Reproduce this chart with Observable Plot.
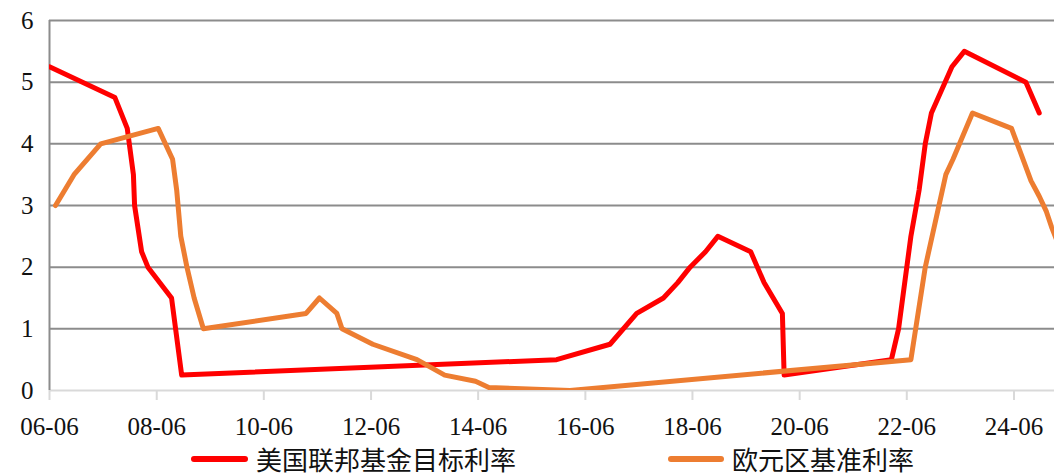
<!DOCTYPE html>
<html>
<head>
<meta charset="utf-8">
<script src="https://cdn.jsdelivr.net/npm/d3@7"></script>
<script src="https://cdn.jsdelivr.net/npm/@observablehq/plot@0.6"></script>
<style>
  html, body { margin: 0; padding: 0; background: #fff; }
  #chart { width: 1054px; height: 476px; overflow: hidden; position: relative; }
  #chart svg { display: block; }
  .legend { position: relative; height: 30px; font-family: "Noto Sans CJK SC", sans-serif; font-size: 26px; line-height: 30px; color: #111; }
  .legend .item { position: absolute; top: 0; height: 30px; display: flex; align-items: center; }
  .legend .swatch { height: 6px; border-radius: 3px; margin-right: 8px; }
</style>
</head>
<body>
<div id="chart"></div>
<script>
// US federal funds target rate (%), at the dates it changed
const fedDates = ["2006-06-29","2007-09-18","2007-12-11","2008-01-22","2008-01-30","2008-03-18","2008-04-30","2008-10-08","2008-12-16","2015-12-16","2016-12-14","2017-06-14","2017-12-13","2018-03-21","2018-06-13","2018-09-26","2018-12-19","2019-07-31","2019-10-30","2020-03-03","2020-03-15","2022-03-16","2022-05-04","2022-07-27","2022-09-21","2022-11-02","2022-12-14","2023-05-03","2023-07-26","2024-09-18","2024-12-18"];
const fedRates = [5.25,4.75,4.25,3.5,3.0,2.25,2.0,1.5,0.25,0.5,0.75,1.25,1.5,1.75,2.0,2.25,2.5,2.25,1.75,1.25,0.25,0.5,1.0,2.5,3.25,4.0,4.5,5.25,5.5,5.0,4.5];

// Euro area main refinancing rate (%)
const ecbDates = ["2006-08-09","2006-12-13","2007-06-13","2008-07-09","2008-10-15","2008-11-12","2008-12-10","2009-01-21","2009-03-11","2009-05-13","2011-04-13","2011-07-13","2011-11-09","2011-12-14","2012-07-11","2013-05-08","2013-11-13","2014-06-11","2014-09-10","2016-03-16","2022-07-27","2022-11-02","2023-03-22","2023-05-10","2023-09-20","2024-06-12","2024-10-23","2024-12-18","2025-02-05","2025-03-12","2025-04-23"];
const ecbRates = [3.0,3.5,4.0,4.25,3.75,3.25,2.5,2.0,1.5,1.0,1.25,1.5,1.25,1.0,0.75,0.5,0.25,0.15,0.05,0.0,0.5,2.0,3.5,3.75,4.5,4.25,3.4,3.15,2.9,2.65,2.4];

// x-axis ticks (every two years) and their labels
const tickDates = ["2006-06-29","2008-06-29","2010-06-29","2012-06-29","2014-06-29","2016-06-29","2018-06-29","2020-06-29","2022-06-29","2024-06-29"];
const tickLabels = ["06-06","08-06","10-06","12-06","14-06","16-06","18-06","20-06","22-06","24-06"];
const yTicks = [0, 1, 2, 3, 4, 5, 6];

const seriesNames = ["美国联邦基金目标利率", "欧元区基准利率"];
const seriesColors = ["#ff0000", "#ed7d31"];

const parse = d3.utcParse("%Y-%m-%d");
const fed = fedDates.map((d, i) => ({date: parse(d), rate: fedRates[i]}));
const ecb = ecbDates.map((d, i) => ({date: parse(d), rate: ecbRates[i]}));
const ticks = tickDates.map(parse);
const labelOf = new Map(ticks.map((d, i) => [+d, tickLabels[i]]));

const xStart = parse("2006-06-29");
const xEnd = parse("2025-04-01");

const serif = "'Liberation Serif', 'Times New Roman', serif";

const chart = Plot.plot({
  width: 1054,
  height: 444,
  marginLeft: 49,
  marginRight: 0,
  marginTop: 20,
  marginBottom: 54,
  style: {fontFamily: serif, fontSize: "25px", background: "#fff", color: "#000"},
  x: {type: "utc", domain: [xStart, xEnd]},
  y: {domain: [0, 6]},
  marks: [
    Plot.ruleY(yTicks.filter(v => v > 0), {y: d => d, stroke: "#8c8c8c", strokeWidth: 2}),
    Plot.ruleY([0], {stroke: "#d9d9d9", strokeWidth: 2}),
    Plot.axisX({ticks, tickFormat: d => labelOf.get(+d), tickSize: 10, tickPadding: 17,
                stroke: "#d9d9d9", strokeWidth: 2, fill: "#111", fontSize: 25, label: null}),
    Plot.ruleX([xStart], {stroke: "#8c8c8c", strokeWidth: 2}),
    Plot.axisY({ticks: yTicks, tickFormat: d => String(d), tickSize: 0, tickPadding: 16,
                fill: "#111", fontSize: 25, label: null}),
    Plot.line(fed, {x: "date", y: "rate", stroke: seriesColors[0], strokeWidth: 5,
                    strokeLinejoin: "round", strokeLinecap: "round", clip: true}),
    Plot.line(ecb, {x: "date", y: "rate", stroke: seriesColors[1], strokeWidth: 5,
                    strokeLinejoin: "round", strokeLinecap: "round", clip: true})
  ]
});

const root = document.getElementById("chart");
root.appendChild(chart);

// legend below the chart
const legend = document.createElement("div");
legend.className = "legend";
const legendLayout = [{left: 191, swatch: 57}, {left: 668, swatch: 56}];
seriesNames.forEach((name, i) => {
  const item = document.createElement("div");
  item.className = "item";
  item.style.left = legendLayout[i].left + "px";
  const sw = document.createElement("span");
  sw.className = "swatch";
  sw.style.width = legendLayout[i].swatch + "px";
  sw.style.background = seriesColors[i];
  const label = document.createElement("span");
  label.textContent = name;
  item.appendChild(sw);
  item.appendChild(label);
  legend.appendChild(item);
});
root.appendChild(legend);
</script>
</body>
</html>
